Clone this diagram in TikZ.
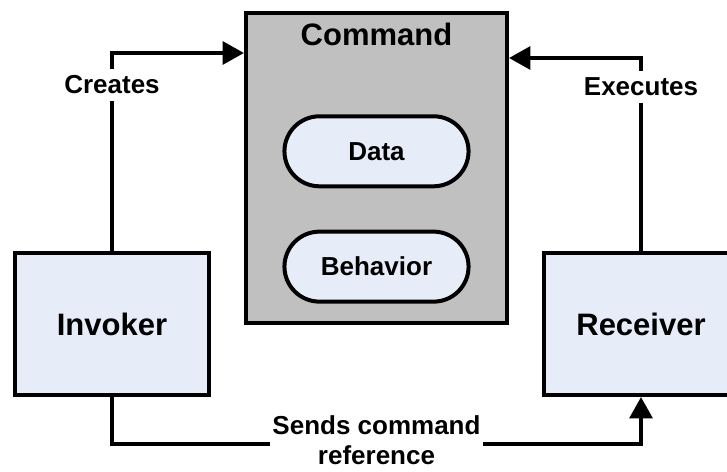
\documentclass[tikz,border=0pt]{standalone}
\usepackage{fontspec}
\setmainfont{Liberation Sans}
\usetikzlibrary{positioning, arrows.meta, shapes.misc}
\definecolor{boxblue}{HTML}{E6ECF8}
\definecolor{cmdgray}{HTML}{C0C0C0}

\begin{document}
\begin{tikzpicture}[x=0.75pt, y=-0.75pt, node distance = {51pt},
	box/.style = {draw, line width=3pt, fill=boxblue, minimum width=145.5pt, minimum height=106.5pt, font=\fontsize{23.25}{28}\selectfont\bfseries},
	pill/.style = {draw, line width=3pt, fill=boxblue, rounded rectangle, minimum width=144.75pt, minimum height=52.5pt, font=\fontsize{19.5}{23}\selectfont\bfseries},
	conn/.style = {line width=3pt, -{Triangle[length=16pt, width=17pt]}},
	lbl/.style = {fill=white, align=center, inner xsep=2pt, inner ysep=5pt, font=\fontsize{19.5}{22.5}\selectfont\bfseries}]
	\useasboundingbox (0,0) rectangle (727,471);
	\node[draw, line width=3pt, fill=cmdgray, minimum width=195.75pt, minimum height=232.5pt] (cmd) at (376.5,168) {};
	\node[inner sep=0pt, font=\fontsize{23.25}{28}\selectfont\bfseries] (title) [below=9pt of cmd.north] {Command};
	\node[pill] (data) [below=of title] {Data};
	\node[pill] (beh) [below=31pt of data] {Behavior};
	\node[box] (inv) at (112,324) {Invoker};
	\node[box] (rec) at (641,324) {Receiver};
	\draw[conn] (inv.north) |- ([yshift=-31.5pt]cmd.north west) node[pos=0.42, lbl] {Creates};
	\draw[conn] (rec.north) |- ([yshift=-35.25pt]cmd.north east) node[pos=0.425, lbl] {Executes};
	\draw[conn] (inv.south) -- ++(0,47) -| (rec.south) node[pos=0.25, lbl, inner ysep=0.5pt, yshift=2.5pt] {Sends command\\reference};
\end{tikzpicture}
\end{document}
